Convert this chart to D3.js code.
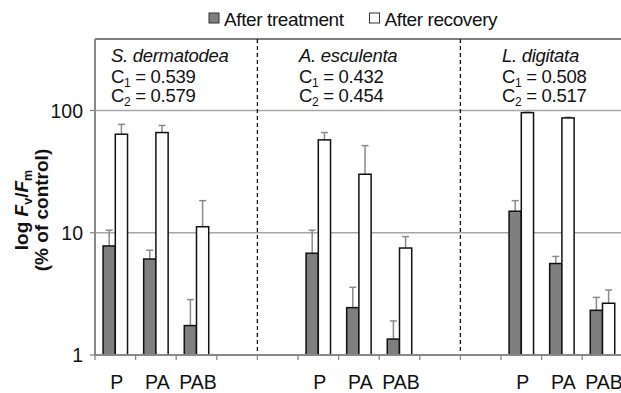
<!DOCTYPE html>
<html>
<head>
<meta charset="utf-8">
<script src="https://cdn.jsdelivr.net/npm/d3@7"></script>
<style>
  body { margin: 0; background: #fff; }
  text { font-family: "Liberation Sans", Arial, sans-serif; fill: #111; }
</style>
</head>
<body>
<svg id="chart" width="621" height="393"></svg>
<script>
// values
var species = ["S. dermatodea", "A. esculenta", "L. digitata"];
var c1 = ["0.539", "0.432", "0.508"];
var c2 = ["0.579", "0.454", "0.517"];
var treatments = ["P", "PA", "PAB"];
var groupStart = [0, 5, 10];   // first slot of each species block (13 slots in all)
var afterTreatment = [7.8, 6.1, 1.74, 6.8, 2.44, 1.35, 15.0, 5.6, 2.32];
var treatmentSd   = [2.7, 1.1, 1.1, 3.7, 1.14, 0.55, 3.3, 0.8, 0.64];
var afterRecovery  = [64, 66, 11.2, 57.5, 30.1, 7.5, 96, 87, 2.65];
var recoverySd    = [13, 9.5, 7.1, 8.5, 21.5, 1.8, 1, 1, 0.75];
var yTicks = [1, 10, 100];

var svg = d3.select("#chart");
var left = 95, plotTop = 39, bottom = 355, slotW = 40.6, nSlots = 13;

var x = d3.scaleBand()
  .domain(d3.range(nSlots))
  .range([left, left + nSlots * slotW])
  .padding(0);
var xs = d3.scaleBand()
  .domain(["t", "r"])
  .range([0, x.bandwidth()])
  .paddingInner(0)
  .paddingOuter(0.66);
var y = d3.scaleLog().domain([1, 100]).range([bottom, 110.5]);

// rows: one per bar
var rows = [];
species.forEach(function(sp, g){
  treatments.forEach(function(t, i){
    var k = g * 3 + i;
    rows.push({slot: groupStart[g] + i, s: "t", v: afterTreatment[k], sd: treatmentSd[k]});
    rows.push({slot: groupStart[g] + i, s: "r", v: afterRecovery[k], sd: recoverySd[k]});
  });
});

// gridlines
svg.selectAll(".grid").data(yTicks.slice(1)).enter().append("line")
  .attr("x1", left).attr("x2", 621)
  .attr("y1", function(d){ return y(d); }).attr("y2", function(d){ return y(d); })
  .style("stroke", "#a6a6a6").style("stroke-width", 1.5);

// top border
svg.append("line").attr("x1", left).attr("x2", 621).attr("y1", plotTop).attr("y2", plotTop)
  .style("stroke", "#555").style("stroke-width", 1.5);

// dashed separators between species
svg.selectAll(".sep").data([4, 9]).enter().append("line")
  .attr("x1", function(d){ return x(d); }).attr("x2", function(d){ return x(d); })
  .attr("y1", plotTop).attr("y2", bottom)
  .style("stroke", "#111").style("stroke-width", 1.3).style("stroke-dasharray", "4,3");

// error bars (upper only)
var err = svg.selectAll(".err").data(rows).enter().append("g");
err.append("line")
  .attr("x1", function(d){ return x(d.slot) + xs(d.s) + xs.bandwidth() / 2; })
  .attr("x2", function(d){ return x(d.slot) + xs(d.s) + xs.bandwidth() / 2; })
  .attr("y1", function(d){ return y(d.v); })
  .attr("y2", function(d){ return y(d.v + d.sd); })
  .style("stroke", "#8a8a8a").style("stroke-width", 1.5);
err.append("line")
  .attr("x1", function(d){ return x(d.slot) + xs(d.s) + xs.bandwidth() / 2 - 3.5; })
  .attr("x2", function(d){ return x(d.slot) + xs(d.s) + xs.bandwidth() / 2 + 3.5; })
  .attr("y1", function(d){ return y(d.v + d.sd); })
  .attr("y2", function(d){ return y(d.v + d.sd); })
  .style("stroke", "#8a8a8a").style("stroke-width", 1.5);

// bars
svg.selectAll(".bar").data(rows).enter().append("rect")
  .attr("x", function(d){ return x(d.slot) + xs(d.s); })
  .attr("width", xs.bandwidth())
  .attr("y", function(d){ return y(d.v); })
  .attr("height", function(d){ return y(1) - y(d.v); })
  .style("fill", function(d){ return d.s == "t" ? "#7f7f7f" : "#fff"; })
  .style("stroke", "#111").style("stroke-width", 1.5);

// axes
svg.append("line").attr("x1", left).attr("x2", left).attr("y1", plotTop).attr("y2", bottom + 1)
  .style("stroke", "#888").style("stroke-width", 2);
svg.append("line").attr("x1", left).attr("x2", 621).attr("y1", bottom).attr("y2", bottom)
  .style("stroke", "#888").style("stroke-width", 2);
svg.selectAll(".xt").data(d3.range(nSlots + 1)).enter().append("line")
  .attr("x1", function(d){ return left + d * slotW; }).attr("x2", function(d){ return left + d * slotW; })
  .attr("y1", bottom).attr("y2", bottom + 5)
  .style("stroke", "#888").style("stroke-width", 1.3);
svg.selectAll(".yt").data(yTicks).enter().append("line")
  .attr("x1", left - 5).attr("x2", left)
  .attr("y1", function(d){ return y(d); }).attr("y2", function(d){ return y(d); })
  .style("stroke", "#888").style("stroke-width", 1.3);
svg.selectAll(".ytl").data(yTicks).enter().append("text")
  .attr("x", 83).attr("y", function(d){ return y(d) + 7; })
  .attr("text-anchor", "end").style("font-size", "19.5px")
  .text(function(d){ return d; });

// category labels
species.forEach(function(sp, g){
  treatments.forEach(function(t, i){
    svg.append("text")
      .attr("x", x(groupStart[g] + i) + x.bandwidth() / 2 + 1.5)
      .attr("y", 389).attr("text-anchor", "middle").style("font-size", "19.5px")
      .text(t);
  });
});

// species annotations
var annX = [111, x(5) + 1, x(10) + 1];
species.forEach(function(sp, g){
  var ga = svg.append("g").attr("transform", "translate(" + annX[g] + ",0)");
  ga.append("text").attr("y", 62).style("font-size", "18.5px").style("font-style", "italic")
    .style("letter-spacing", "-0.3px").text(sp);
  [c1[g], c2[g]].forEach(function(c, j){
    var t = ga.append("text").attr("y", 83 + j * 19).style("font-size", "18.5px")
      .style("letter-spacing", "-0.3px");
    t.append("tspan").text("C");
    t.append("tspan").attr("dy", 4).style("font-size", "12px").text(j + 1);
    t.append("tspan").attr("dy", -4).text(" = " + c);
  });
});

// legend
var legend = [["After treatment", "#7f7f7f", 209], ["After recovery", "#fff", 369.5]];
legend.forEach(function(l){
  svg.append("rect").attr("x", l[2]).attr("y", 13).attr("width", 10).attr("height", 10)
    .style("fill", l[1]).style("stroke", "#333").style("stroke-width", 1);
  svg.append("text").attr("x", l[2] + 15).attr("y", 25.5).style("font-size", "19px")
    .style("letter-spacing", "-0.4px").text(l[0]);
});

// y axis title
var yt = svg.append("g").attr("transform", "translate(0,210) rotate(-90)");
var t1 = yt.append("text").attr("y", 28).attr("text-anchor", "middle")
  .style("font-size", "19px").style("font-weight", "bold");
t1.append("tspan").text("log ");
t1.append("tspan").style("font-style", "italic").text("F");
t1.append("tspan").attr("dy", 4).style("font-size", "12.5px").text("v");
t1.append("tspan").attr("dy", -4).text("/");
t1.append("tspan").style("font-style", "italic").text("F");
t1.append("tspan").attr("dy", 4).style("font-size", "12.5px").text("m");
yt.append("text").attr("y", 48).attr("text-anchor", "middle")
  .style("font-size", "19px").style("font-weight", "bold").text("(% of control)");
</script>
</body>
</html>
